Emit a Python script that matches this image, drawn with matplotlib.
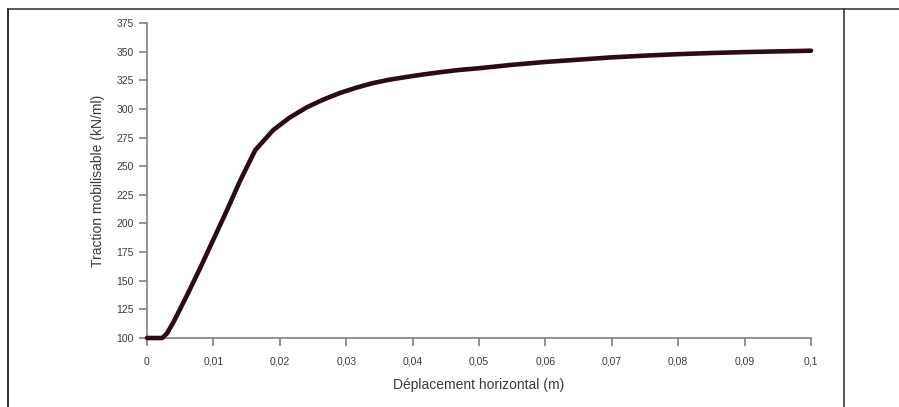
import matplotlib.pyplot as plt
from matplotlib.lines import Line2D

# values
deplacement = [0.0, 0.0010, 0.0023, 0.0030, 0.0040, 0.0060, 0.0080, 0.0100, 0.0120,
               0.0140, 0.0163, 0.0190, 0.0215, 0.0241, 0.0265, 0.0291, 0.0315,
               0.0340, 0.0365, 0.0392, 0.0415, 0.0441, 0.0470, 0.0500, 0.0550,
               0.0600, 0.0650, 0.0700, 0.0750, 0.0800, 0.0850, 0.0900, 0.0950,
               0.1000]
traction = [100.0, 100.0, 100.0, 104.0, 114.0, 137.0, 161.0, 186.0, 211.0,
            237.0, 264.0, 281.5, 292.5, 301.5, 308.0, 314.0, 318.5,
            322.5, 325.5, 328.0, 330.0, 332.0, 334.0, 335.5, 338.5,
            341.0, 343.0, 345.0, 346.5, 347.8, 348.8, 349.6, 350.2,
            350.8]

x_ticks = [0, 0.01, 0.02, 0.03, 0.04, 0.05, 0.06, 0.07, 0.08, 0.09, 0.1]
x_labels = ['0', '0,01', '0,02', '0,03', '0,04', '0,05', '0,06', '0,07', '0,08', '0,09', '0,1']
y_ticks = [100, 125, 150, 175, 200, 225, 250, 275, 300, 325, 350, 375]

plt.rcParams['font.family'] = ['Liberation Sans', 'DejaVu Sans']

W, H = 899, 407
fig = plt.figure(figsize=(W / 100, H / 100), dpi=100)
ax = fig.add_axes([147 / W, 1 - 338 / H, (811 - 147) / W, (338 - 23) / H])

ax.plot(deplacement, traction, color='#2b0c16', lw=3.3, solid_capstyle='round',
        solid_joinstyle='round', clip_on=False, zorder=3)

ax.set_xlim(0, 0.1)
ax.set_ylim(100, 375)
ax.set_xticks(x_ticks)
ax.set_xticklabels(x_labels)
ax.set_yticks(y_ticks)

for s in ['top', 'right']:
    ax.spines[s].set_visible(False)
for s in ['left', 'bottom']:
    ax.spines[s].set_color('#808080')
    ax.spines[s].set_linewidth(1.2)
ax.tick_params(axis='both', colors='#808080', labelcolor='#3a3a3a', labelsize=7.5,
               length=5.5, width=1.2)
ax.tick_params(axis='x', pad=8)
ax.tick_params(axis='y', pad=4)

ax.set_xlabel('Déplacement horizontal (m)', fontsize=10, color='#3a3a3a', labelpad=8)
ax.set_ylabel('Traction mobilisable (kN/ml)', fontsize=10, color='#3a3a3a', labelpad=8)

# surrounding table-like border
border = '#3c3c3c'
fig.add_artist(Line2D([8 / W, 8 / W], [0, 1 - 9 / H], transform=fig.transFigure,
                      color='#111111', lw=1.2))
fig.add_artist(Line2D([8 / W, 1], [1 - 9 / H, 1 - 9 / H], transform=fig.transFigure,
                      color=border, lw=1.2))
fig.add_artist(Line2D([844 / W, 844 / W], [0, 1 - 9 / H], transform=fig.transFigure,
                      color=border, lw=1.2))

fig.savefig('out.png', dpi=100)
